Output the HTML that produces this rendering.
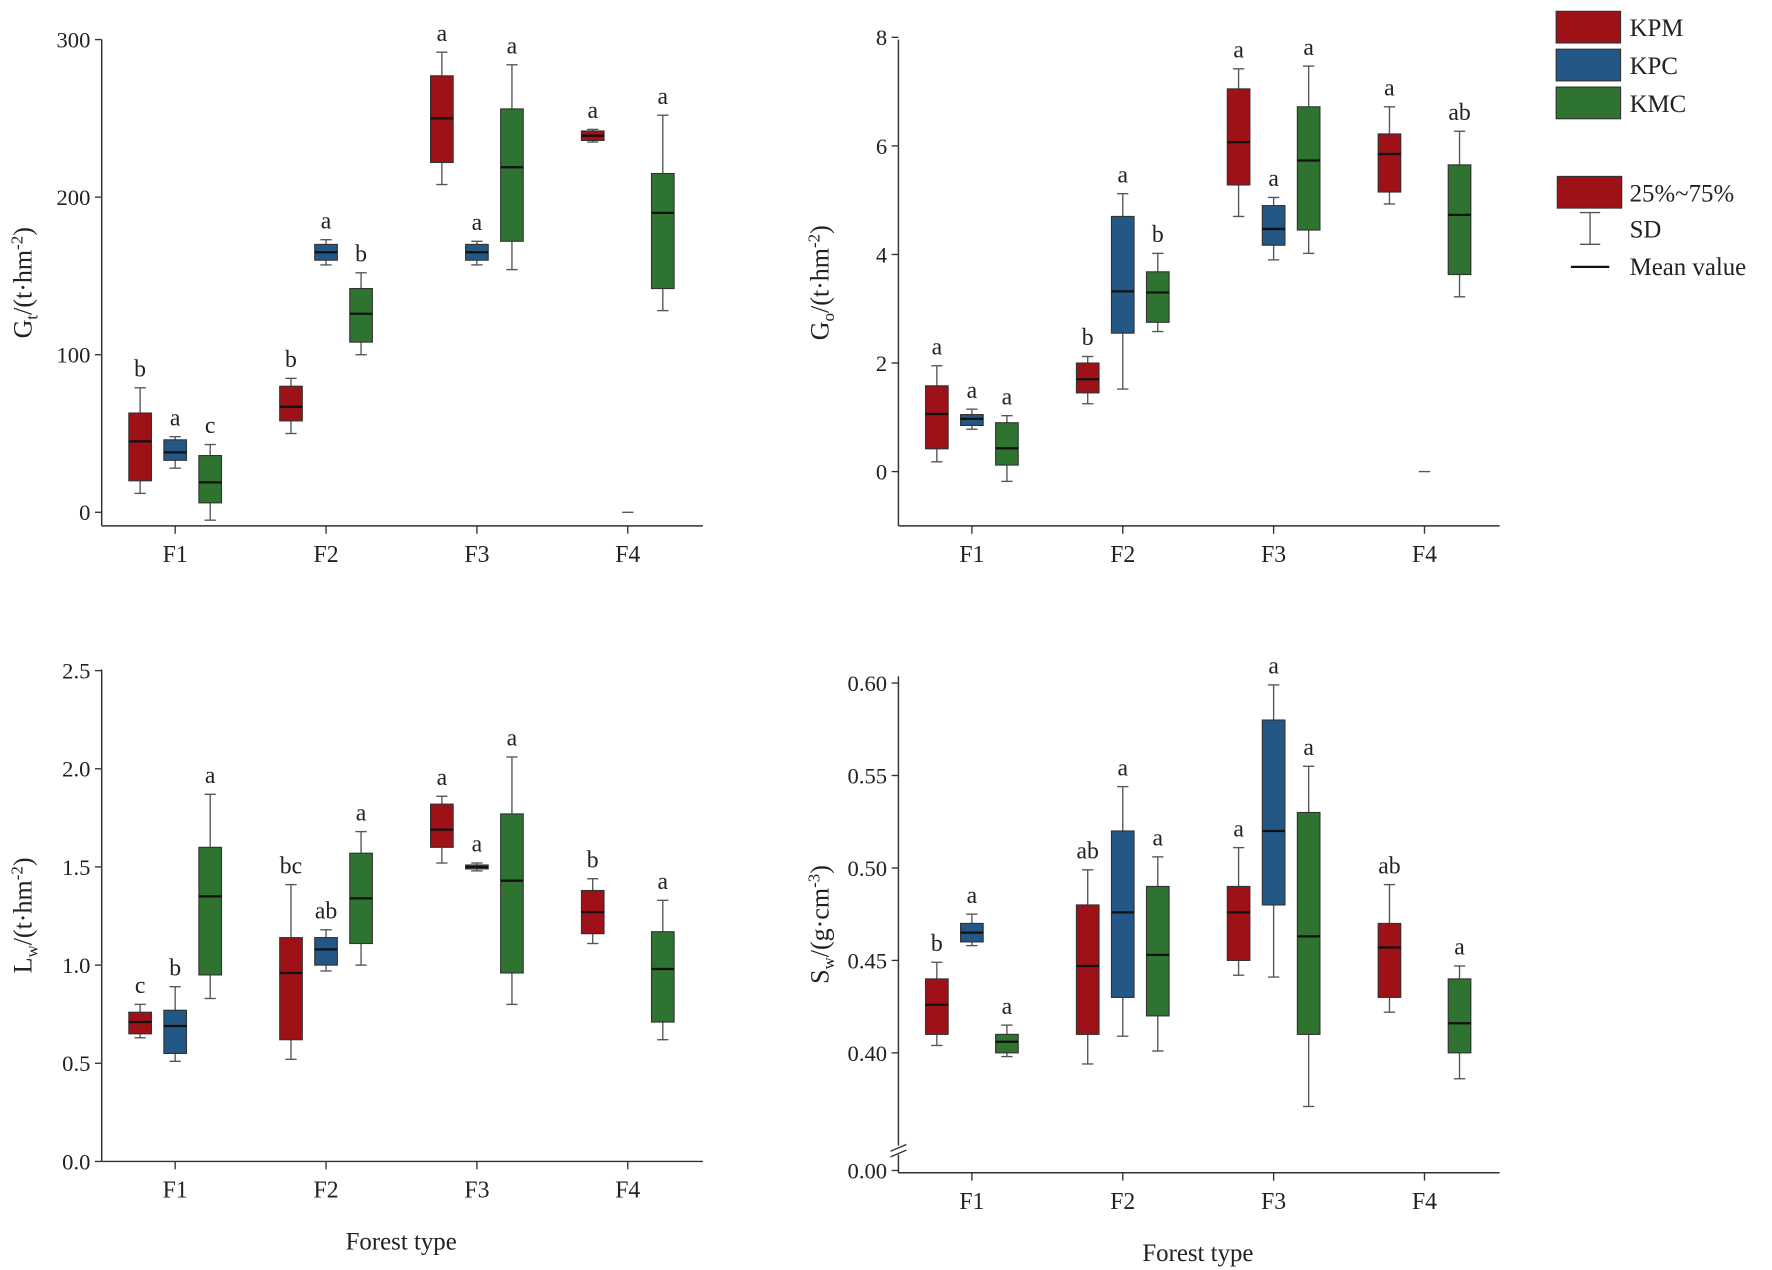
<!DOCTYPE html>
<html><head><meta charset="utf-8"><style>
html,body{margin:0;padding:0;background:#fff;}
svg{display:block;font-family:"Liberation Serif","Times New Roman",serif;}
svg text{font-family:"Liberation Serif","Times New Roman",serif;}
</style></head><body>
<svg id="chart" width="1772" height="1270" viewBox="0 0 1568 1123" preserveAspectRatio="none" xmlns="http://www.w3.org/2000/svg">
<g id="root"></g>
</svg>
<script>
// Categories and series
const categories = ["F1","F2","F3","F4"];
const seriesNames = ["KPM","KPC","KMC"];
const colors = ["#9e1116","#235786","#2f7330"];

// Panel A: Gt  — [q1,q3,mean,min,max,letter] per category per series (null = missing)
const gtKPM = [[20,63,45,12,79,"b"],[58,80,67,50,85,"b"],[222,277,250,208,292,"a"],[236,242,239,235,243,"a"]];
const gtKPC = [[33,46,38,28,48,"a"],[160,170,165,157,173,"a"],[160,170,165,157,172,"a"],[null,null,0,null,null,""]];
const gtKMC = [[6,36,19,-5,43,"c"],[108,142,126,100,152,"b"],[172,256,219,154,284,"a"],[142,215,190,128,252,"a"]];
const gtTicks = [0,100,200,300];

// Panel B: Go
const goKPM = [[0.42,1.58,1.06,0.18,1.95,"a"],[1.45,2.0,1.7,1.25,2.12,"b"],[5.28,7.05,6.07,4.7,7.42,"a"],[5.15,6.22,5.85,4.93,6.72,"a"]];
const goKPC = [[0.85,1.05,0.97,0.78,1.15,"a"],[2.55,4.7,3.32,1.52,5.12,"a"],[4.17,4.9,4.47,3.9,5.05,"a"],[null,null,0,null,null,""]];
const goKMC = [[0.12,0.9,0.43,-0.18,1.03,"a"],[2.75,3.68,3.3,2.58,4.02,"b"],[4.45,6.72,5.73,4.02,7.47,"a"],[3.63,5.65,4.73,3.22,6.27,"ab"]];
const goTicks = [0,2,4,6,8];

// Panel C: Lw
const lwKPM = [[0.65,0.76,0.71,0.63,0.8,"c"],[0.62,1.14,0.96,0.52,1.41,"bc"],[1.6,1.82,1.69,1.52,1.86,"a"],[1.16,1.38,1.27,1.11,1.44,"b"]];
const lwKPC = [[0.55,0.77,0.69,0.51,0.89,"b"],[1.0,1.14,1.08,0.97,1.18,"ab"],[1.49,1.51,1.5,1.48,1.52,"a"],null];
const lwKMC = [[0.95,1.6,1.35,0.83,1.87,"a"],[1.11,1.57,1.34,1.0,1.68,"a"],[0.96,1.77,1.43,0.8,2.06,"a"],[0.71,1.17,0.98,0.62,1.33,"a"]];
const lwTicks = [0,0.5,1.0,1.5,2.0,2.5];

// Panel D: Sw
const swKPM = [[0.41,0.44,0.426,0.404,0.449,"b"],[0.41,0.48,0.447,0.394,0.499,"ab"],[0.45,0.49,0.476,0.442,0.511,"a"],[0.43,0.47,0.457,0.422,0.491,"ab"]];
const swKPC = [[0.46,0.47,0.465,0.458,0.475,"a"],[0.43,0.52,0.476,0.409,0.544,"a"],[0.48,0.58,0.52,0.441,0.599,"a"],null];
const swKMC = [[0.40,0.41,0.406,0.398,0.415,"a"],[0.42,0.49,0.453,0.401,0.506,"a"],[0.41,0.53,0.463,0.371,0.555,"a"],[0.40,0.44,0.416,0.386,0.447,"a"]];
const swTicks = [0.40,0.45,0.50,0.55,0.60];

const NS="http://www.w3.org/2000/svg";
const root=document.getElementById('root');
function mk(tag,attrs,parent,text){const e=document.createElementNS(NS,tag);for(const k in attrs)e.setAttribute(k,attrs[k]);if(text!==undefined)e.textContent=text;(parent||root).appendChild(e);return e;}

function panel(p){
  const g=mk('g',{});
  
  
  const y=v=>p.y0+(v-p.v0)*(p.y1-p.y0)/(p.v1-p.v0);
  const xc=i=>p.xs+i*133.5;
  const ya=mk('line',{x1:p.ax,y1:p.top,x2:p.ax,y2:p.bot,stroke:'#333','stroke-width':1.3},g);
  
  
  const xa=mk('line',{x1:p.ax,y1:p.bot,x2:p.ax+532,y2:p.bot,stroke:'#333','stroke-width':1.3},g);
  
  
  p.ticks.forEach(t=>{
    const ty=y(t);
    mk('line',{x1:p.ax-6,y1:ty,x2:p.ax,y2:ty,stroke:'#333','stroke-width':1.2},g);
    const tl=mk('text',{x:p.ax-10,y:ty+7,'text-anchor':'end','font-size':20,fill:'#222'},g,p.fmt(t));
    
    
  });
  if(p.extraTick){
    mk('line',{x1:p.ax-6,y1:p.extraTick.y,x2:p.ax,y2:p.extraTick.y,stroke:'#333','stroke-width':1.2},g);
    const tl=mk('text',{x:p.ax-10,y:p.extraTick.y+7,'text-anchor':'end','font-size':20,fill:'#222'},g,p.extraTick.label);
    
    
    mk('rect',{x:p.ax-8,y:p.extraTick.y-22,width:16,height:8,fill:'#fff'},g);
    mk('line',{x1:p.ax-7,y1:p.extraTick.y-17,x2:p.ax+7,y2:p.extraTick.y-23,stroke:'#333','stroke-width':1.2},g);
    mk('line',{x1:p.ax-7,y1:p.extraTick.y-12,x2:p.ax+7,y2:p.extraTick.y-18,stroke:'#333','stroke-width':1.2},g);
  }
  categories.forEach((c,i)=>{
    mk('line',{x1:xc(i),y1:p.bot,x2:xc(i),y2:p.bot+7,stroke:'#333','stroke-width':1.2},g);
    const cl=mk('text',{x:xc(i),y:p.bot+32,'text-anchor':'middle','font-size':21,fill:'#222'},g,c);
    
    
  });
  const yl=mk('text',{transform:`translate(${p.ax-62},${(p.top+p.bot)/2}) rotate(-90)`,'text-anchor':'middle','font-size':23,fill:'#222'},g);
  yl.innerHTML=p.ylab;
  
  
  p.series.forEach((arr,s)=>{
    arr.forEach((d,i)=>{
      if(!d) return;
      const cx=xc(i)+(s-1)*31, w=20;
      const bg=mk('g',{},g);
      
      
      if(d[0]===null){
        mk('line',{x1:cx-5,y1:y(d[2]),x2:cx+5,y2:y(d[2]),stroke:'#555','stroke-width':1.2},bg);
        return;
      }
      mk('line',{x1:cx,y1:y(d[3]),x2:cx,y2:y(d[4]),stroke:'#555','stroke-width':1.2},bg);
      mk('line',{x1:cx-5,y1:y(d[3]),x2:cx+5,y2:y(d[3]),stroke:'#555','stroke-width':1.2},bg);
      mk('line',{x1:cx-5,y1:y(d[4]),x2:cx+5,y2:y(d[4]),stroke:'#555','stroke-width':1.2},bg);
      const yt=Math.min(y(d[0]),y(d[1])), h=Math.max(Math.abs(y(d[1])-y(d[0])),2);
      mk('rect',{x:cx-w/2,y:yt,width:w,height:h,fill:colors[s],stroke:'#333','stroke-width':1},bg);
      mk('line',{x1:cx-w/2,y1:y(d[2]),x2:cx+w/2,y2:y(d[2]),stroke:'#111','stroke-width':2},bg);
      const lt=mk('text',{x:cx,y:y(d[4])-10,'text-anchor':'middle','font-size':21,fill:'#222'},bg,d[5]);
      
      
    });
  });
}

panel({name:'panel-gt',ax:90,top:35,bot:465,xs:155,v0:0,y0:453,v1:300,y1:35,ticks:gtTicks,fmt:t=>String(t),
  ylab:'G<tspan font-size="15" dy="5">t</tspan><tspan dy="-5">/(t·hm</tspan><tspan font-size="15" dy="-8">-2</tspan><tspan dy="8">)</tspan>',series:[gtKPM,gtKPC,gtKMC]});
panel({name:'panel-go',ax:795,top:35,bot:465,xs:860,v0:0,y0:417,v1:8,y1:33,ticks:goTicks,fmt:t=>String(t),
  ylab:'G<tspan font-size="15" dy="5">o</tspan><tspan dy="-5">/(t·hm</tspan><tspan font-size="15" dy="-8">-2</tspan><tspan dy="8">)</tspan>',series:[goKPM,goKPC,goKMC]});
panel({name:'panel-lw',ax:90,top:592,bot:1027,xs:155,v0:0,y0:1027,v1:2.5,y1:593,ticks:lwTicks,fmt:t=>t.toFixed(1),
  ylab:'L<tspan font-size="15" dy="5">w</tspan><tspan dy="-5">/(t·hm</tspan><tspan font-size="15" dy="-8">-2</tspan><tspan dy="8">)</tspan>',series:[lwKPM,lwKPC,lwKMC]});
panel({name:'panel-sw',ax:795,top:598,bot:1037,xs:860,v0:0.40,y0:931,v1:0.60,y1:604,ticks:swTicks,fmt:t=>t.toFixed(2),extraTick:{y:1035,label:'0.00'},
  ylab:'S<tspan font-size="15" dy="5">w</tspan><tspan dy="-5">/(g·cm</tspan><tspan font-size="15" dy="-8">-3</tspan><tspan dy="8">)</tspan>',series:[swKPM,swKPC,swKMC]});

let t1=mk('text',{x:355,y:1105,'text-anchor':'middle','font-size':22,fill:'#222'},root,'Forest type');


let t2=mk('text',{x:1060,y:1115,'text-anchor':'middle','font-size':22,fill:'#222'},root,'Forest type');



const lg=mk('g',{});


seriesNames.forEach((n,i)=>{
  const e=mk('g',{},lg);
  
  
  mk('rect',{x:1377,y:10+i*33.5,width:57,height:28,fill:colors[i],stroke:'#333','stroke-width':1},e);
  mk('text',{x:1442,y:32+i*33.5,'font-size':22,fill:'#222'},e,n);
});
const e1=mk('g',{},lg);


mk('rect',{x:1378,y:156,width:57,height:28,fill:colors[0],stroke:'#333','stroke-width':1},e1);
mk('text',{x:1442,y:178,'font-size':22,fill:'#222'},e1,'25%~75%');
const e2=mk('g',{},lg);


mk('line',{x1:1407,y1:188,x2:1407,y2:216,stroke:'#555','stroke-width':1.2},e2);
mk('line',{x1:1398,y1:188,x2:1416,y2:188,stroke:'#555','stroke-width':1.2},e2);
mk('line',{x1:1398,y1:216,x2:1416,y2:216,stroke:'#555','stroke-width':1.2},e2);
mk('text',{x:1442,y:210,'font-size':22,fill:'#222'},e2,'SD');
const e3=mk('g',{},lg);


mk('line',{x1:1390,y1:236,x2:1424,y2:236,stroke:'#111','stroke-width':2},e3);
mk('text',{x:1442,y:243,'font-size':22,fill:'#222'},e3,'Mean value');
</script>
</body></html>
